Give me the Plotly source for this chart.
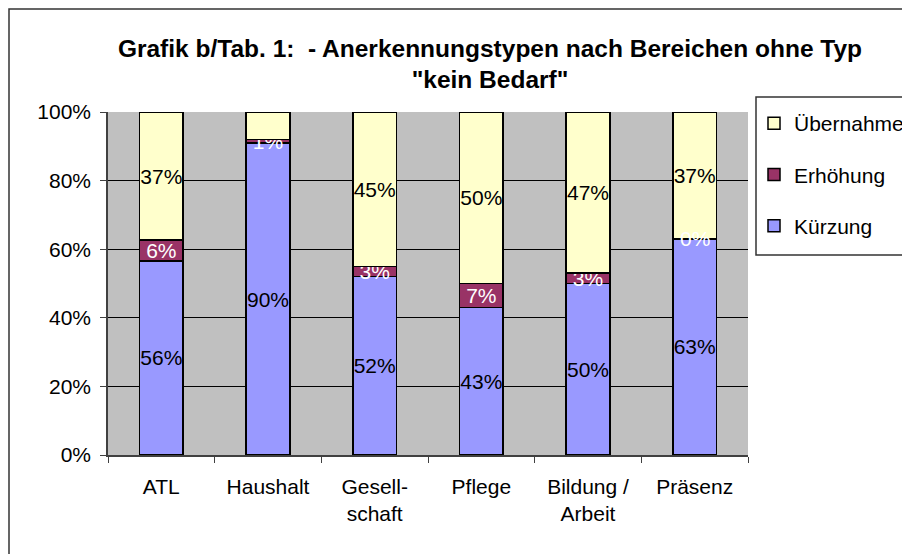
import plotly.graph_objects as go

categories = ["ATL", "Haushalt", "Gesell-<br>schaft", "Pflege", "Bildung /<br>Arbeit", "Präsenz"]
kuerzung = [56, 90, 52, 43, 50, 63]
erhoehung = [6, 1, 3, 7, 3, 0]
uebernahme = [37, 8, 45, 50, 47, 37]

series = [
    ("Kürzung", kuerzung, "#9999FF", "black"),
    ("Erhöhung", erhoehung, "#993366", "white"),
    ("Übernahme", uebernahme, "#FFFFCC", "black"),
]

FONT = "Liberation Sans, Arial, sans-serif"
OFF = 8  # page body margin offset

fig = go.Figure()
for i, (name, vals, color, tcolor) in enumerate(series):
    fig.add_trace(go.Bar(
        name=name, x=categories, y=vals,
        marker=dict(color=color, line=dict(color="black", width=1.5)),
        text=[f"{v}%" for v in vals],
        textposition="inside", insidetextanchor="middle", textangle=0,
        constraintext="none", cliponaxis=False,
        textfont=dict(color=tcolor, size=21, family=FONT),
        width=0.41, legendgroup=name, legendrank=3 - i,
    ))

# labels of zero-height segments (not drawn by bar text)
annotations = []
totals = [sum(s[1][j] for s in series) for j in range(len(categories))]
for i, (name, vals, color, tcolor) in enumerate(series):
    for j, v in enumerate(vals):
        if v == 0:
            base = sum(series[k][1][j] for k in range(i)) / totals[j] * 100
            annotations.append(dict(
                x=categories[j], y=base, xref="x", yref="y", text=f"{v}%",
                showarrow=False, font=dict(color=tcolor, size=21, family=FONT),
            ))

W, H = 910, 554
L = 108 - OFF
T = 112 - OFF
pw, ph = 640, 343
R = W - L - pw
B = H - T - ph


def px(x):
    # page x -> paper x
    return (x - OFF - L) / pw


def py(y):
    # page y -> paper y
    return (T + ph + OFF - y) / ph


fig.update_layout(
    width=W, height=H,
    barmode="stack", barnorm="percent",
    margin=dict(l=L, r=R, t=T, b=B, autoexpand=False),
    paper_bgcolor="white", plot_bgcolor="#C0C0C0",
    font=dict(family=FONT, size=21, color="black"),
    title=dict(
        text="<b>Grafik b/Tab. 1:  - Anerkennungstypen nach Bereichen ohne Typ<br>\"kein Bedarf\"</b>",
        x=(490 - OFF) / W, xanchor="center", y=1 - (56.5 - OFF) / H, yanchor="middle",
        font=dict(size=24.5, family=FONT, color="black"),
    ),
    legend=dict(
        x=px(754), xanchor="left", y=py(103), yanchor="top",
        bgcolor="rgba(0,0,0,0)", borderwidth=0,
        traceorder="grouped", tracegroupgap=21,
        font=dict(size=21, family=FONT),
    ),
    showlegend=True,
    annotations=annotations,
    shapes=[
        dict(type="rect", xref="paper", yref="paper",
             x0=px(9), x1=px(940), y0=py(580), y1=py(9),
             line=dict(color="#333333", width=1.5), layer="below"),
        dict(type="rect", xref="paper", yref="paper",
             x0=px(756), x1=px(940), y0=py(255), y1=py(97),
             line=dict(color="#333333", width=1.5), fillcolor="white"),
    ],
)
fig.update_xaxes(
    showgrid=False, showline=True, linecolor="#404040", linewidth=1.5,
    ticks="outside", tickson="boundaries", ticklen=6, tickcolor="#404040",
    ticklabelstandoff=12, tickfont=dict(size=21, family=FONT), automargin=False,
)
fig.update_yaxes(
    range=[0, 100], dtick=20, ticksuffix="%",
    showgrid=True, gridcolor="black", gridwidth=1,
    showline=True, linecolor="#404040", linewidth=1.5,
    ticks="outside", ticklen=6, tickcolor="#404040",
    ticklabelstandoff=5, tickfont=dict(size=21, family=FONT),
    zeroline=False, automargin=False,
)

fig.write_html("out.html")
